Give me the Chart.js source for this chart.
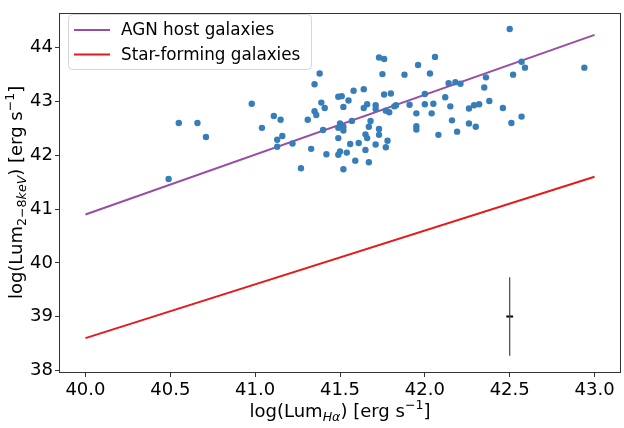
<!DOCTYPE html>
<html>
<head>
<meta charset="utf-8">
<script src="https://cdn.jsdelivr.net/npm/chart.js@4/dist/chart.umd.min.js"></script>
<style>
  html, body { margin: 0; padding: 0; background: #fff; }
  #wrap { width: 624px; height: 428px; }
</style>
</head>
<body>
<div id="wrap"><canvas id="chart" width="624" height="428"></canvas></div>
<script>
// AGN host galaxies: log L(Halpha) and log L(2-8 keV)
const hostLumHa = [
    40.49, 40.55, 40.66, 40.71, 40.98, 41.04, 41.11, 41.15, 41.13, 41.16,
    41.13, 41.22, 41.27, 41.31, 41.33, 41.35, 41.38, 41.35, 41.36, 41.39,
    41.41, 41.40, 41.42, 41.49, 41.50, 41.54, 41.52, 41.49, 41.51, 41.55,
    41.52, 41.58, 41.64, 41.66, 41.64, 41.71, 41.71, 41.73, 41.76, 41.75,
    41.76, 41.80, 41.77, 41.79, 41.82, 41.83, 41.91, 41.88, 41.96, 42.03,
    42.06, 42.00, 42.00, 42.05, 42.12, 42.14, 42.18, 42.21, 42.15, 41.95,
    42.04, 42.16, 42.26, 42.29, 42.32, 42.38, 42.36, 42.35, 42.46, 42.50,
    42.52, 42.57, 42.59, 42.94, 42.51, 42.57, 42.26, 42.30, 42.19, 41.95,
    41.95, 42.08, 41.67, 41.68, 41.57, 41.73, 41.50, 41.51, 41.52, 41.49,
    41.52, 41.49, 41.65, 41.66, 41.73, 41.78, 41.77, 41.71, 41.56, 41.61,
    41.65, 41.59, 41.67
];
const hostLumX = [
    41.56, 42.60, 42.60, 42.34, 42.96, 42.51, 42.73, 42.66, 42.29, 42.36,
    42.16, 42.22, 41.76, 42.66, 42.12, 43.32, 43.52, 42.82, 42.75, 42.98,
    42.88, 42.47, 42.02, 42.01, 42.07, 42.05, 41.74, 43.09, 43.10, 43.02,
    42.90, 43.20, 43.23, 42.95, 42.88, 42.93, 42.86, 43.82, 43.79, 43.51,
    43.13, 43.15, 42.83, 42.80, 42.91, 42.93, 42.94, 43.50, 43.68, 43.52,
    43.83, 43.14, 42.95, 42.96, 43.08, 43.34, 43.36, 43.33, 42.91, 42.78,
    42.78, 42.65, 42.87, 42.93, 42.95, 43.01, 43.45, 43.26, 42.88, 44.35,
    43.50, 43.74, 43.63, 43.63, 42.60, 42.72, 42.59, 42.53, 42.44, 42.54,
    42.48, 42.38, 42.53, 42.64, 42.64, 42.49, 42.59, 42.54, 42.53, 42.51,
    42.46, 42.32, 42.39, 42.32, 42.38, 42.27, 42.15, 42.20, 42.21, 42.23,
    42.10, 41.90, 41.87
];

// the two relations, drawn between their end points
const lineLumHa = [40.0, 43.0];
const agnLumX = [40.90, 44.24];
const sfLumX = [38.60, 41.60];

// typical error bar
const errLumHa = [42.5];
const errLumX = [39.0];
const errHa = [0.02];
const errX = [0.73];

const xTicks = [40.0, 40.5, 41.0, 41.5, 42.0, 42.5, 43.0];
const yTicks = [38, 39, 40, 41, 42, 43, 44];
const xRange = [39.85, 43.15];
const yRange = [37.97, 44.65];

const FONT = '"DejaVu Sans", sans-serif';
const INK = '#333';

function toPoints(xs, ys) {
    return xs.map((x, i) => ({ x: x, y: ys[i] }));
}

// rich text: [text, size factor, baseline shift in em, italic]
function drawRich(ctx, parts, x, y, size) {
    const fontOf = p => (p[3] ? 'italic ' : '') + (size * p[1]) + 'px ' + FONT;
    const widths = parts.map(p => { ctx.font = fontOf(p); return ctx.measureText(p[0]).width; });
    let cx = x - widths.reduce((a, b) => a + b, 0) / 2;
    parts.forEach((p, i) => {
        ctx.font = fontOf(p);
        ctx.fillText(p[0], cx, y + p[2] * size);
        cx += widths[i];
    });
}

const framePlugin = {
    id: 'frame',
    afterDraw(chart) {
        const { ctx, chartArea: a } = chart;
        ctx.save();
        ctx.strokeStyle = INK;
        ctx.lineWidth = 1;
        ctx.strokeRect(Math.round(a.left) - 0.5, Math.round(a.top) + 0.5,
            Math.round(a.right - a.left) + 1, Math.round(a.bottom - a.top));

        // axis titles with sub- and superscripts
        ctx.fillStyle = '#000';
        ctx.textBaseline = 'alphabetic';
        const midX = (a.left + a.right) / 2;
        drawRich(ctx, [
            ['log(Lum', 1, 0, false],
            ['H\u03b1', 0.7, 0.22, true],
            [') [erg s', 1, 0, false],
            ['\u22121', 0.7, -0.42, false],
            [']', 1, 0, false]
        ], midX, 417, 18);

        ctx.translate(22, (a.top + a.bottom) / 2);
        ctx.rotate(-Math.PI / 2);
        drawRich(ctx, [
            ['log(Lum', 1, 0, false],
            ['2\u22128', 0.7, 0.22, false],
            ['keV', 0.7, 0.22, true],
            [') [erg s', 1, 0, false],
            ['\u22121', 0.7, -0.42, false],
            [']', 1, 0, false]
        ], 0, 0, 18);
        ctx.restore();

        // legend box in the upper left corner
        const items = chart.data.datasets.filter(d => d.inLegend);
        const bx = 68, by = 14, bw = 243, bh = 55;
        ctx.save();
        ctx.beginPath();
        ctx.roundRect(bx + 0.5, by + 0.5, bw, bh, 4);
        ctx.fillStyle = 'rgba(255,255,255,0.8)';
        ctx.fill();
        ctx.strokeStyle = '#d6d6d6';
        ctx.lineWidth = 1;
        ctx.stroke();
        ctx.font = '16.8px ' + FONT;
        ctx.textBaseline = 'middle';
        items.forEach((d, i) => {
            const y = 30 + i * 24.5;
            ctx.strokeStyle = d.borderColor;
            ctx.lineWidth = 2;
            ctx.beginPath();
            ctx.moveTo(74, y);
            ctx.lineTo(110, y);
            ctx.stroke();
            ctx.fillStyle = '#000';
            ctx.fillText(d.label, 121, y + 1);
        });
        ctx.restore();
    }
};

const ctx = document.getElementById('chart').getContext('2d');
new Chart(ctx, {
    type: 'scatter',
    data: {
        datasets: [
            {
                label: 'AGN host galaxies sample',
                data: toPoints(hostLumHa, hostLumX),
                backgroundColor: '#377eb8',
                borderWidth: 0,
                pointRadius: 3.2,
                order: 0
            },
            {
                label: 'AGN host galaxies',
                inLegend: true,
                data: toPoints(lineLumHa, agnLumX),
                showLine: true,
                borderColor: '#984ea3',
                borderWidth: 2,
                pointRadius: 0,
                order: 2
            },
            {
                label: 'Star-forming galaxies',
                inLegend: true,
                data: toPoints(lineLumHa, sfLumX),
                showLine: true,
                borderColor: '#e41a1c',
                borderWidth: 2,
                pointRadius: 0,
                order: 2
            },
            {
                label: 'error y',
                data: [{ x: errLumHa[0], y: errLumX[0] - errX[0] }, { x: errLumHa[0], y: errLumX[0] + errX[0] }],
                showLine: true,
                borderColor: '#444',
                borderWidth: 1.2,
                pointRadius: 0,
                order: 1
            },
            {
                label: 'error x',
                data: [{ x: errLumHa[0] - errHa[0], y: errLumX[0] }, { x: errLumHa[0] + errHa[0], y: errLumX[0] }],
                showLine: true,
                borderColor: '#000',
                borderWidth: 2,
                pointRadius: 0,
                order: 1
            }
        ]
    },
    options: {
        responsive: false,
        animation: false,
        devicePixelRatio: 1,
        layout: { padding: { top: 7, right: 2, left: 0, bottom: 0 } },
        plugins: { legend: { display: false }, tooltip: { enabled: false } },
        scales: {
            x: {
                type: 'linear',
                min: xRange[0],
                max: xRange[1],
                afterBuildTicks: s => { s.ticks = xTicks.map(v => ({ value: v })); },
                afterFit: s => { s.height = 56; },
                ticks: {
                    color: '#000',
                    font: { family: FONT, size: 18 },
                    padding: 3,
                    maxRotation: 0,
                    autoSkip: false,
                    callback: v => v.toFixed(1)
                },
                grid: { drawOnChartArea: false, drawTicks: true, tickLength: 5, tickColor: INK },
                border: { display: false }
            },
            y: {
                type: 'linear',
                min: yRange[0],
                max: yRange[1],
                afterBuildTicks: s => { s.ticks = yTicks.map(v => ({ value: v })); },
                afterFit: s => { s.width = 60; },
                ticks: {
                    color: '#000',
                    font: { family: FONT, size: 18 },
                    padding: 2,
                    autoSkip: false,
                    callback: v => String(v)
                },
                grid: { drawOnChartArea: false, drawTicks: true, tickLength: 5, tickColor: INK },
                border: { display: false }
            }
        }
    },
    plugins: [framePlugin]
});
</script>
</body>
</html>
